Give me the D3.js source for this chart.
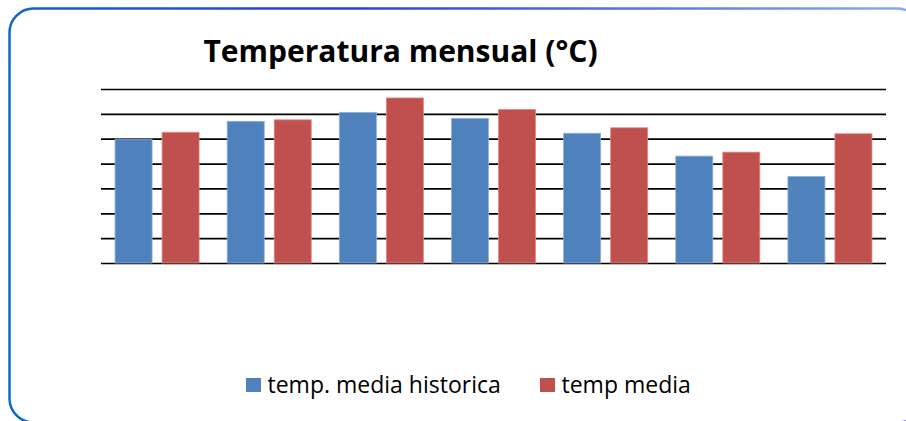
<!DOCTYPE html>
<html>
<head>
<meta charset="utf-8">
<script src="https://cdn.jsdelivr.net/npm/d3@7"></script>
<style>
  html, body { margin: 0; padding: 0; background: #fff; }
  svg { display: block; }
</style>
</head>
<body>
<svg id="chart" width="906" height="421"></svg>
<script>
// Monthly temperature: historical average vs. measured average (°C)
const categories = ["1", "2", "3", "4", "5", "6", "7"];
const seriesNames = ["temp. media historica", "temp media"];
const historica = [24.9, 28.5, 30.3, 29.1, 26.1, 21.5, 17.4];
const media = [26.3, 28.8, 33.2, 30.9, 27.2, 22.3, 26.0];
const yTicks = [0, 5, 10, 15, 20, 25, 30, 35];
const titleText = "Temperatura mensual (°C)";

const colors = ["#4F81BD", "#C0504D"];
const edgeColors = ["#8DB0DC", "#E08A88"];

const svg = d3.select("#chart");
const W = 906, H = 421;
const plot = { left: 101, right: 886, top: 89, bottom: 263 };

// Rounded frame with a blue gradient border
const defs = svg.append("defs");
const grad = defs.append("linearGradient")
  .attr("id", "frameGrad")
  .attr("gradientUnits", "userSpaceOnUse")
  .attr("x1", 0).attr("y1", 200).attr("x2", 906).attr("y2", 0);
grad.append("stop").attr("offset", "0").attr("stop-color", "#0E6CC8");
grad.append("stop").attr("offset", "0.4").attr("stop-color", "#2E3FD0");
grad.append("stop").attr("offset", "0.75").attr("stop-color", "#5F78E8");
grad.append("stop").attr("offset", "1").attr("stop-color", "#8FA8F8");

svg.append("rect")
  .attr("x", 9.5).attr("y", 8.5)
  .attr("width", 912).attr("height", 414)
  .attr("rx", 24).attr("ry", 24)
  .attr("fill", "#fff")
  .attr("stroke", "url(#frameGrad)")
  .attr("stroke-width", 2.5);

// Scales
const x0 = d3.scaleBand().domain(categories).range([plot.left, plot.right]).padding(0);
const x1 = d3.scaleBand().domain(seriesNames).range([0, x0.bandwidth()])
  .paddingInner(10 / 47).paddingOuter(14.05 / 47);
const y = d3.scaleLinear().domain([0, 35]).range([plot.bottom, plot.top]);

// Horizontal gridlines (no tick labels)
const grid = svg.append("g")
  .attr("transform", `translate(${plot.left},0)`)
  .call(d3.axisLeft(y).tickValues(yTicks).tickSize(-(plot.right - plot.left)).tickFormat(""));
grid.select(".domain").remove();
grid.selectAll(".tick line")
  .attr("stroke", "#000")
  .attr("stroke-width", 1.7);

// Bars
const rows = categories.map((c, i) => ({ cat: c, vals: [historica[i], media[i]] }));
const groups = svg.append("g").selectAll("g")
  .data(rows).join("g")
  .attr("transform", d => `translate(${x0(d.cat)},0)`);
groups.selectAll("rect")
  .data(d => d.vals.map((v, k) => ({ key: seriesNames[k], v, k })))
  .join("rect")
  .attr("x", d => x1(d.key))
  .attr("y", d => y(d.v))
  .attr("width", x1.bandwidth())
  .attr("height", d => y(0) - y(d.v))
  .attr("fill", d => colors[d.k])
  .attr("stroke", d => edgeColors[d.k])
  .attr("stroke-width", 0.8);

// Title
svg.append("text")
  .attr("x", 400.5).attr("y", 62)
  .attr("text-anchor", "middle")
  .attr("font-family", "'Open Sans', sans-serif")
  .attr("font-weight", "bold")
  .attr("font-size", 30)
  .attr("fill", "#000")
  .text(titleText);

// Legend
const legendX = [246, 540];
const legend = svg.append("g").selectAll("g")
  .data(seriesNames).join("g")
  .attr("transform", (d, i) => `translate(${legendX[i]},0)`);
legend.append("rect")
  .attr("x", 0).attr("y", 378)
  .attr("width", 15).attr("height", 14)
  .attr("fill", (d, i) => colors[i]);
legend.append("text")
  .attr("x", 21.5).attr("y", 393)
  .attr("font-family", "'Open Sans', sans-serif")
  .attr("font-size", 23)
  .attr("fill", "#000")
  .text(d => d);
</script>
</body>
</html>
